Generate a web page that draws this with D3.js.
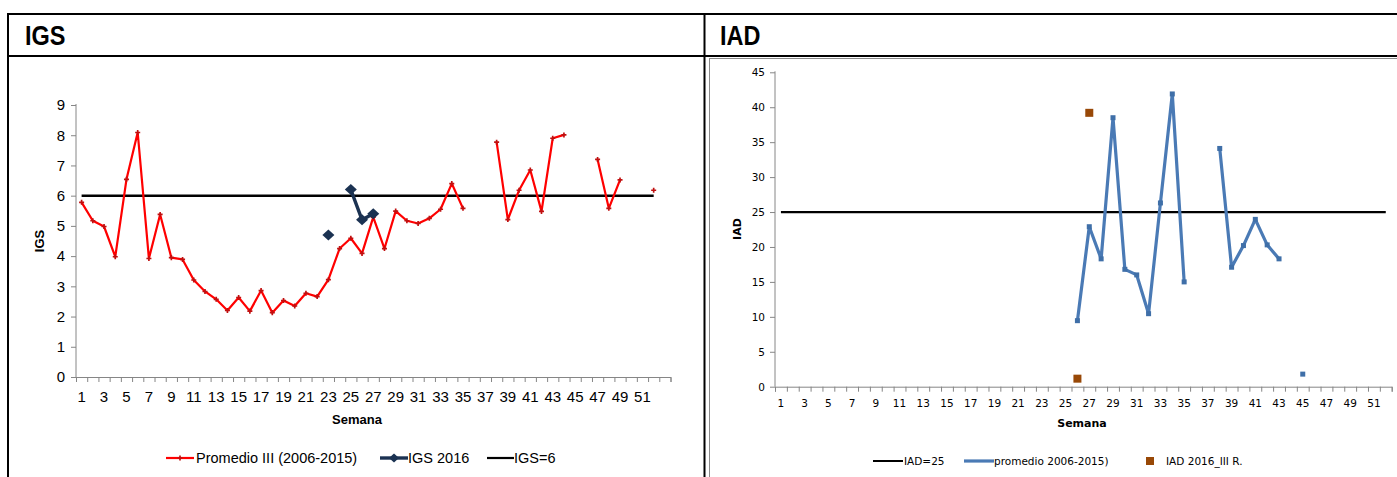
<!DOCTYPE html>
<html>
<head>
<meta charset="utf-8">
<script src="https://cdn.jsdelivr.net/npm/d3@7"></script>
<style>
  body { margin: 0; background: #fff; }
  svg { display: block; }
  .narrow { font-family: "Liberation Sans Narrow", "Arial Narrow", "Liberation Sans", sans-serif; }
  .small { font-family: "DejaVu Sans", Verdana, sans-serif; }
</style>
</head>
<body>
<svg id="chart" width="1397" height="477"></svg>
<script>
// Weekly index values, one entry per epidemiological week (null = no data)
const igsWeeks = [1,2,3,4,5,6,7,8,9,10,11,12,13,14,15,16,17,18,19,20,21,22,23,24,25,26,
                  27,28,29,30,31,32,33,34,35,36,37,38,39,40,41,42,43,44,45,46,47,48,49,50,51,52,53];
const promedioIII = [5.78,5.17,4.98,3.98,6.54,8.09,3.92,5.38,3.95,3.89,3.21,2.83,2.57,2.20,2.63,2.18,
                     2.86,2.13,2.53,2.35,2.77,2.66,3.22,4.25,4.59,4.09,5.29,4.25,5.49,5.17,5.08,5.25,
                     5.55,6.40,5.58,null,null,7.77,5.21,6.18,6.85,5.48,7.90,8.01,null,null,7.20,5.58,
                     6.52,null,null,6.18];
const igs2016Weeks = [23,25,26,27];
const igs2016Values = [4.7,6.2,5.2,5.4];
const igsThreshold = 6;
const igsYTicks = [0,1,2,3,4,5,6,7,8,9];

const iadWeeks = [1,2,3,4,5,6,7,8,9,10,11,12,13,14,15,16,17,18,19,20,21,22,23,24,25,26,
                  27,28,29,30,31,32,33,34,35,36,37,38,39,40,41,42,43,44,45,46,47,48,49,50,51,52];
const iadPromedioWeeks = [26,27,28,29,30,31,32,33,34,35,36,37,38,39,40,41,42,43,44,45];
const iadPromedioValues = [9.45,22.9,18.3,38.5,16.8,16.0,10.45,26.3,41.9,15.0,null,null,
                           34.1,17.1,20.2,23.95,20.3,18.3,null,1.8];
const iad2016Weeks = [26,27];
const iad2016Values = [1.15,39.2];
const iadThreshold = 25;
const iadYTicks = [0,5,10,15,20,25,30,35,40,45];

const svg = d3.select("#chart");

// wide diamond marker centred on the origin
const diamond = (w, h) => `M0,${-h / 2}L${w / 2},0L0,${h / 2}L${-w / 2},0Z`;

// ---- table frame with the two headers ----
const frame = svg.append("g");
frame.append("line").attr("x1", 8).attr("x2", 1397).attr("y1", 14).attr("y2", 14)
  .attr("stroke", "#000").attr("stroke-width", 2);
frame.append("line").attr("x1", 8).attr("x2", 1397).attr("y1", 56).attr("y2", 56)
  .attr("stroke", "#000").attr("stroke-width", 2);
frame.append("line").attr("x1", 8).attr("x2", 8).attr("y1", 13).attr("y2", 477)
  .attr("stroke", "#000").attr("stroke-width", 2);
frame.append("line").attr("x1", 704.5).attr("x2", 704.5).attr("y1", 13).attr("y2", 477)
  .attr("stroke", "#000").attr("stroke-width", 2);
frame.append("line").attr("x1", 709.5).attr("x2", 709.5).attr("y1", 58).attr("y2", 477)
  .attr("stroke", "#8a8a8a").attr("stroke-width", 1);
frame.append("line").attr("x1", 709.5).attr("x2", 1397).attr("y1", 58.5).attr("y2", 58.5)
  .attr("stroke", "#8a8a8a").attr("stroke-width", 1);

frame.append("text").attr("class", "narrow").attr("transform", "translate(25,45) scale(0.84,1)")
  .attr("font-size", 28).attr("font-weight", "bold").text("IGS");
frame.append("text").attr("class", "narrow").attr("transform", "translate(720,45) scale(0.84,1)")
  .attr("font-size", 28).attr("font-weight", "bold").text("IAD");

// ---- shared helpers ----
function categoryAxes(g, x, y, cats, yTicks, opts) {
  const [x0, x1] = x.range();
  const [yb, yt] = y.range();
  const ya = g.append("g").attr("transform", `translate(${x0},0)`)
    .call(d3.axisLeft(y).tickValues(yTicks).tickSize(opts.tick).tickPadding(opts.yPad));
  // tick marks on category boundaries
  const edge = d3.scaleLinear().domain([0, cats.length]).range([x0, x1]);
  const xe = g.append("g").attr("transform", `translate(0,${yb})`)
    .call(d3.axisBottom(edge).tickValues(d3.range(0, cats.length + 1)).tickSize(opts.tick).tickFormat(""));
  // labels on odd weeks
  const xl = g.append("g").attr("transform", `translate(0,${yb})`)
    .call(d3.axisBottom(x).tickValues(cats.filter(c => c % 2 === 1 && c <= 51)).tickSize(0).tickPadding(opts.xPad));
  [ya, xe, xl].forEach(a => {
    a.selectAll("path.domain").attr("stroke", "#868686");
    a.selectAll(".tick line").attr("stroke", "#868686");
    a.selectAll("text").attr("class", opts.font).attr("font-size", opts.fs).attr("fill", "#000");
  });
  xl.select("path.domain").remove();
  ya.select("path.domain").attr("d", `M0,${yb}V${yt - 1}`);
}

// ---- IGS chart ----
{
  const g = svg.append("g");
  const x = d3.scaleBand().domain(igsWeeks).range([76, 670.5]);
  const y = d3.scaleLinear().domain([0, 9]).range([377, 105]);
  const cx = w => x(w) + x.bandwidth() / 2;

  categoryAxes(g, x, y, igsWeeks, igsYTicks, { tick: 5, yPad: 6, xPad: 14, font: "narrow", fs: 15 });

  g.append("line").attr("x1", cx(1)).attr("x2", cx(52))
    .attr("y1", y(igsThreshold)).attr("y2", y(igsThreshold))
    .attr("stroke", "#000").attr("stroke-width", 2.5);

  // historical average
  const prom = promedioIII.map((v, i) => ({ w: igsWeeks[i], v }));
  g.append("path").datum(prom)
    .attr("d", d3.line().defined(d => d.v != null).x(d => cx(d.w)).y(d => y(d.v)))
    .attr("fill", "none").attr("stroke", "#ff0000").attr("stroke-width", 2.2).attr("stroke-linejoin", "round");
  g.selectAll(".pm").data(prom.filter(d => d.v != null)).join("path")
    .attr("transform", d => `translate(${cx(d.w)},${y(d.v)})`)
    .attr("d", d3.symbol(d3.symbolCross, 14)).attr("fill", "#c01010");

  // 2016 series
  const cur = igsWeeks.map(w => {
    const k = igs2016Weeks.indexOf(w);
    return { w, v: k >= 0 ? igs2016Values[k] : null };
  });
  g.append("path").datum(cur)
    .attr("d", d3.line().defined(d => d.v != null).x(d => cx(d.w)).y(d => y(d.v)))
    .attr("fill", "none").attr("stroke", "#1b3252").attr("stroke-width", 3.4);
  g.selectAll(".cm").data(cur.filter(d => d.v != null)).join("path")
    .attr("transform", d => `translate(${cx(d.w)},${y(d.v)})`)
    .attr("d", diamond(12, 11)).attr("fill", "#1b3252");

  g.append("text").attr("class", "narrow").attr("font-size", 13).attr("font-weight", "bold")
    .attr("text-anchor", "middle").attr("transform", "translate(44,241) rotate(-90)").text("IGS");
  g.append("text").attr("class", "narrow").attr("font-size", 13).attr("font-weight", "bold")
    .attr("text-anchor", "middle").attr("x", 357).attr("y", 424).text("Semana");

  // legend
  const lg = g.append("g").attr("class", "narrow").attr("font-size", 14.5);
  lg.append("line").attr("x1", 166).attr("x2", 194).attr("y1", 458).attr("y2", 458)
    .attr("stroke", "#ff0000").attr("stroke-width", 2.2);
  lg.append("path").attr("transform", "translate(180,458)").attr("d", d3.symbol(d3.symbolCross, 14)).attr("fill", "#c01010");
  lg.append("text").attr("x", 196).attr("y", 463).text("Promedio III (2006-2015)");
  lg.append("line").attr("x1", 380).attr("x2", 408).attr("y1", 458).attr("y2", 458)
    .attr("stroke", "#1b3252").attr("stroke-width", 3.4);
  lg.append("path").attr("transform", "translate(394,458)").attr("d", diamond(10, 9)).attr("fill", "#1b3252");
  lg.append("text").attr("x", 408).attr("y", 463).text("IGS 2016");
  lg.append("line").attr("x1", 487).attr("x2", 514).attr("y1", 458).attr("y2", 458)
    .attr("stroke", "#000").attr("stroke-width", 2.2);
  lg.append("text").attr("x", 514).attr("y", 463).text("IGS=6");
}

// ---- IAD chart ----
{
  const g = svg.append("g");
  const x = d3.scaleBand().domain(iadWeeks).range([775, 1391.7]);
  const y = d3.scaleLinear().domain([0, 45]).range([386.7, 72.3]);
  const cx = w => x(w) + x.bandwidth() / 2;

  categoryAxes(g, x, y, iadWeeks, iadYTicks, { tick: 5, yPad: 5, xPad: 13, font: "small", fs: 10.5 });

  g.append("line").attr("x1", cx(1)).attr("x2", cx(52))
    .attr("y1", y(iadThreshold)).attr("y2", y(iadThreshold))
    .attr("stroke", "#000").attr("stroke-width", 2.2);

  const prom = iadWeeks.map(w => {
    const k = iadPromedioWeeks.indexOf(w);
    return { w, v: k >= 0 ? iadPromedioValues[k] : null };
  });
  g.append("path").datum(prom)
    .attr("d", d3.line().defined(d => d.v != null).x(d => cx(d.w)).y(d => y(d.v)))
    .attr("fill", "none").attr("stroke", "#4a7ab5").attr("stroke-width", 3.2).attr("stroke-linejoin", "round");
  g.selectAll(".pm").data(prom.filter(d => d.v != null)).join("rect")
    .attr("x", d => cx(d.w) - 2.5).attr("y", d => y(d.v) - 2.5)
    .attr("width", 5).attr("height", 5).attr("fill", "#3f6fa8");

  const cur = iad2016Weeks.map((w, i) => ({ w, v: iad2016Values[i] }));
  g.selectAll(".cm").data(cur).join("rect")
    .attr("x", d => cx(d.w) - 4).attr("y", d => y(d.v) - 4)
    .attr("width", 8).attr("height", 8).attr("fill", "#984807");

  g.append("text").attr("class", "small").attr("font-size", 11).attr("font-weight", "bold")
    .attr("text-anchor", "middle").attr("transform", "translate(741,229) rotate(-90)").text("IAD");
  g.append("text").attr("class", "small").attr("font-size", 11).attr("font-weight", "bold")
    .attr("text-anchor", "middle").attr("x", 1082).attr("y", 427).text("Semana");

  const lg = g.append("g").attr("class", "small").attr("font-size", 10.5);
  lg.append("line").attr("x1", 873).attr("x2", 903).attr("y1", 461).attr("y2", 461)
    .attr("stroke", "#000").attr("stroke-width", 2);
  lg.append("text").attr("x", 904).attr("y", 465).text("IAD=25");
  lg.append("line").attr("x1", 964).attr("x2", 994).attr("y1", 461).attr("y2", 461)
    .attr("stroke", "#4a7ab5").attr("stroke-width", 3.2);
  lg.append("text").attr("x", 994).attr("y", 465).text("promedio 2006-2015)");
  lg.append("rect").attr("x", 1146).attr("y", 457).attr("width", 8).attr("height", 8).attr("fill", "#984807");
  lg.append("text").attr("x", 1166).attr("y", 465).text("IAD 2016_III R.");
}
</script>
</body>
</html>
